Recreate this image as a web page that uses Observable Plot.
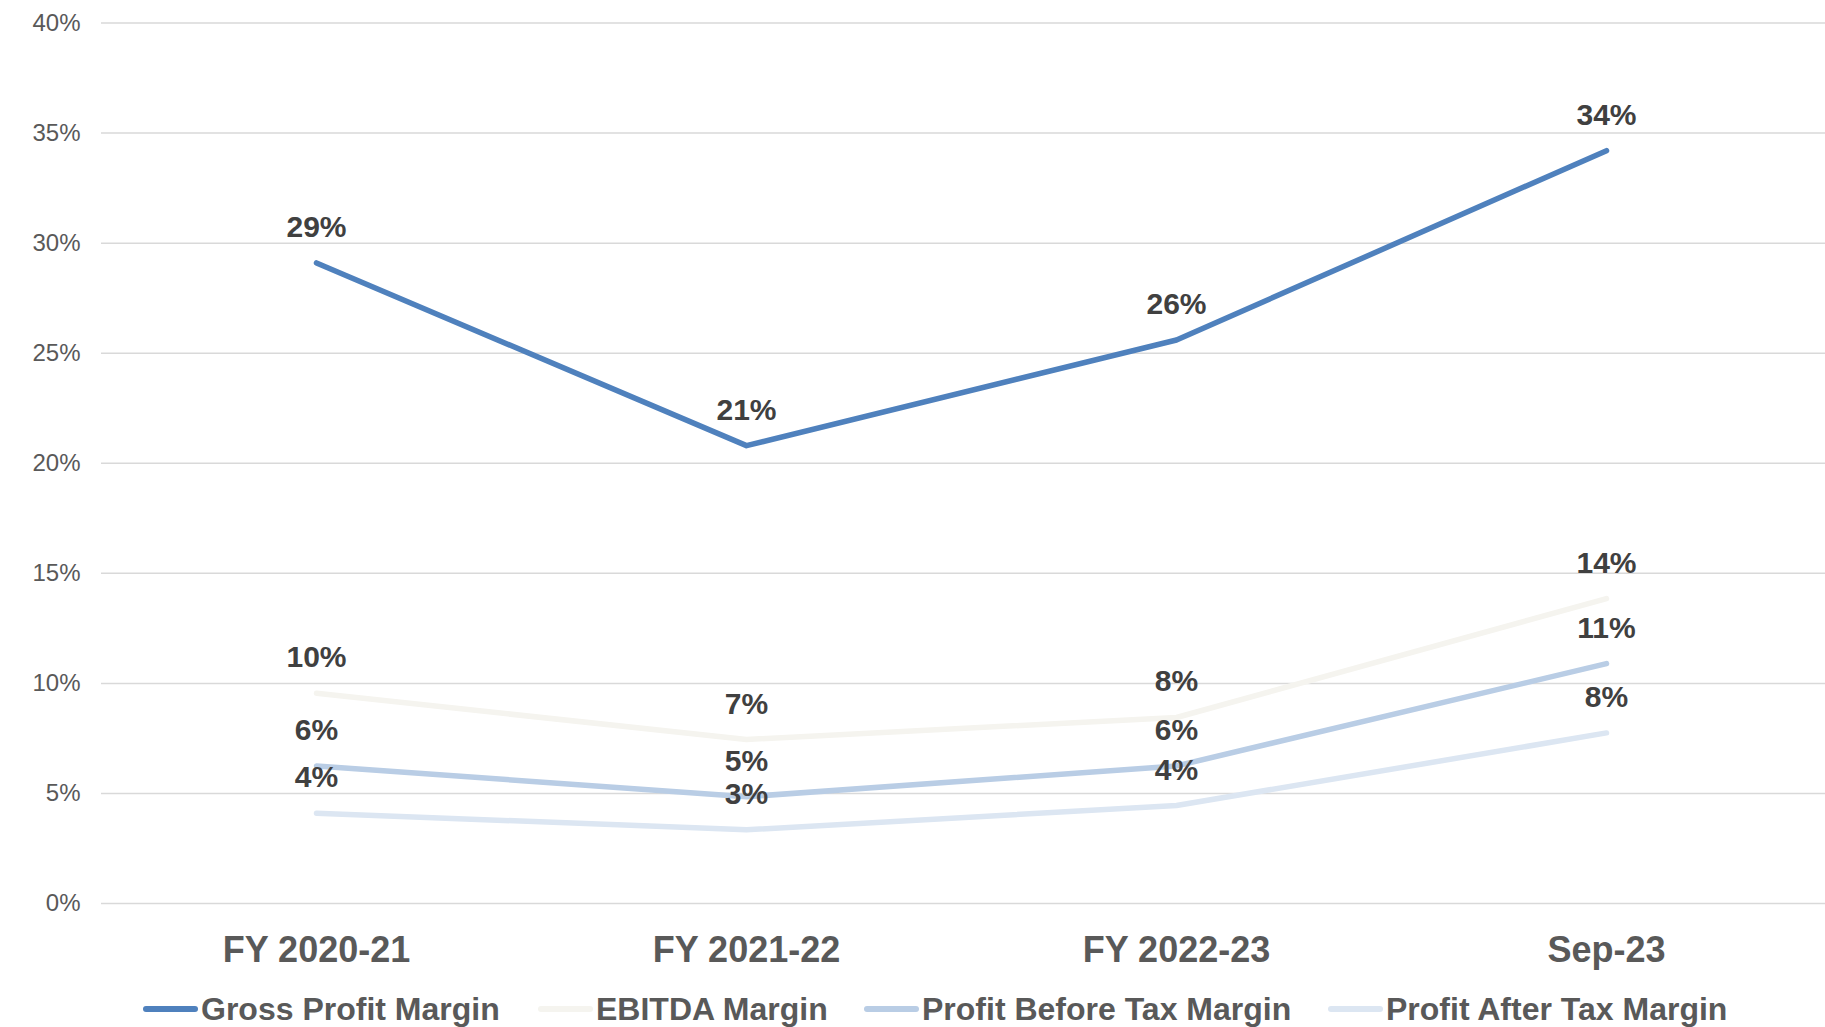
<!DOCTYPE html>
<html>
<head>
<meta charset="utf-8">
<script src="https://cdn.jsdelivr.net/npm/d3@7"></script>
<script src="https://cdn.jsdelivr.net/npm/@observablehq/plot@0.6"></script>
<style>
  html, body { margin: 0; padding: 0; background: #fff; }
  #wrap { position: relative; width: 1825px; height: 1027px; overflow: hidden; font-family: "Liberation Sans", Arial, sans-serif; }
  #legend { position: absolute; left: 0; top: 985px; height: 48px; width: 1825px; }
  .item { position: absolute; top: 0; height: 48px; display: flex; align-items: center; font-size: 32px; font-weight: bold; color: #595959; white-space: nowrap; }
  .sw { width: 55px; height: 6px; border-radius: 3px; margin-right: 3px; }
</style>
</head>
<body>
<div id="wrap">
  <div id="chart"></div>
  <div id="legend"></div>
</div>
<script>
const categories = ["FY 2020-21", "FY 2021-22", "FY 2022-23", "Sep-23"];
const seriesNames = ["Gross Profit Margin", "EBITDA Margin", "Profit Before Tax Margin", "Profit After Tax Margin"];
const grossProfitMargin = [29.1, 20.8, 25.6, 34.2];
const ebitdaMargin = [9.55, 7.45, 8.45, 13.85];
const profitBeforeTaxMargin = [6.25, 4.85, 6.25, 10.9];
const profitAfterTaxMargin = [4.1, 3.35, 4.45, 7.75];
const yTicks = [0, 5, 10, 15, 20, 25, 30, 35, 40];
const seriesColors = ["#4F81BD", "#F5F4EF", "#B9CDE5", "#DCE6F2"];

const seriesValues = [grossProfitMargin, ebitdaMargin, profitBeforeTaxMargin, profitAfterTaxMargin];
const data = [];
seriesNames.forEach((s, si) => {
  categories.forEach((c, ci) => data.push({series: s, category: c, value: seriesValues[si][ci]}));
});
// draw order: lightest behind
const drawOrder = [3, 2, 1, 0].map(i => seriesNames[i]);
const ordered = drawOrder.flatMap(s => data.filter(d => d.series === s));

const font = "Liberation Sans, Arial, sans-serif";
const chart = Plot.plot({
  width: 1825,
  height: 980,
  marginLeft: 101,
  marginRight: 0,
  marginTop: 22.5,
  marginBottom: 77,
  style: {fontFamily: font, background: "#fff", overflow: "visible"},
  x: {type: "point", domain: categories, range: [315, 1607], padding: 0},
  y: {domain: [0, 40], ticks: yTicks},
  color: {domain: seriesNames, range: seriesColors},
  marks: [
    Plot.ruleY(yTicks, {stroke: "#D9D9D9", strokeWidth: 1.5}),
    Plot.axisY({ticks: yTicks, tickSize: 0, tickPadding: 21, tickFormat: d => d + "%", fontSize: 24, fill: "#595959", label: null}),
    Plot.axisX({tickSize: 0, tickPadding: 46.5, lineAnchor: "middle", fontSize: 36, fontWeight: "bold", fill: "#595959", label: null}),
    Plot.line(ordered, {x: "category", y: "value", z: "series", stroke: "series", strokeWidth: 5.5, strokeLinecap: "round", strokeLinejoin: "round"}),
    Plot.text(data, {x: "category", y: "value", text: d => Math.round(d.value) + "%", dy: -26, lineAnchor: "bottom", fontSize: 30, fontWeight: "bold", fill: "#404040"})
  ]
});
document.getElementById("chart").appendChild(chart);

const legendLefts = [143, 538, 864, 1328];
const legend = document.getElementById("legend");
seriesNames.forEach((s, i) => {
  const item = document.createElement("div");
  item.className = "item";
  item.style.left = legendLefts[i] + "px";
  const sw = document.createElement("span");
  sw.className = "sw";
  sw.style.background = seriesColors[i];
  item.appendChild(sw);
  const t = document.createElement("span");
  t.textContent = s;
  item.appendChild(t);
  legend.appendChild(item);
});
</script>
</body>
</html>
